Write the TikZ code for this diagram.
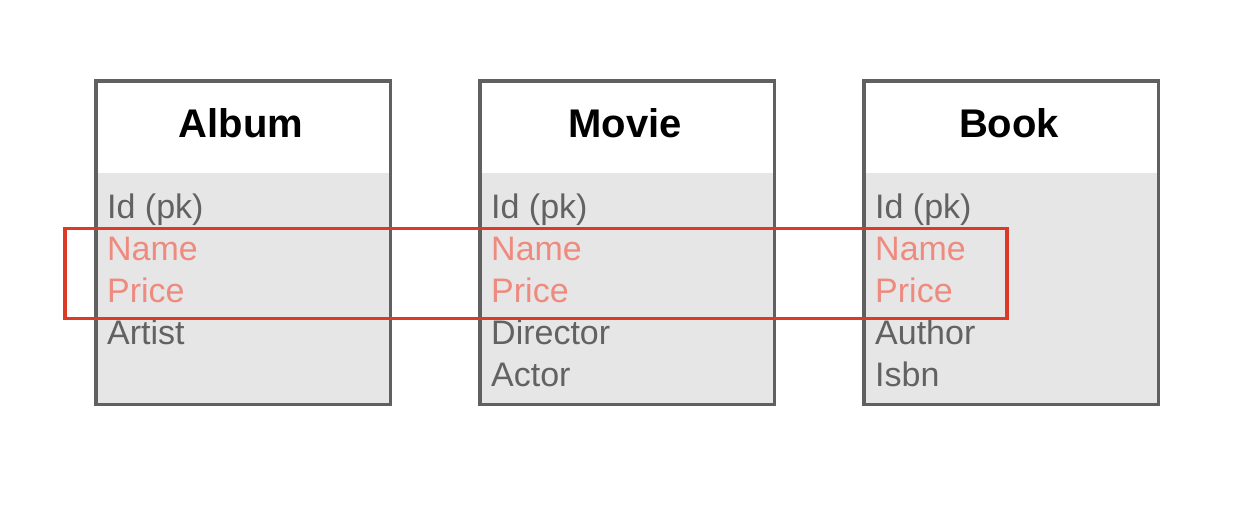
\documentclass[tikz,border=0pt]{standalone}
\usepackage{fontspec}
\setmainfont{Liberation Sans}
\usetikzlibrary{positioning}
\definecolor{TablaBorde}{HTML}{606060}
\definecolor{TablaFondo}{HTML}{E6E6E6}
\definecolor{CampoGris}{HTML}{626262}
\definecolor{CampoRojo}{HTML}{EF8A7E}
\definecolor{MarcaRojo}{HTML}{DC3A26}

\begin{document}
\begin{tikzpicture}[
  x=1pt,y=-1pt,
  tabla/.style={rectangle,fill=TablaFondo,minimum width=294.5pt,minimum height=323.5pt,inner sep=0pt},
  cabecera/.style={rectangle,fill=white,minimum width=294.5pt,minimum height=91.7pt,inner sep=0pt,anchor=north},
  borde/.style={draw=TablaBorde,line width=3.5pt},
  titulo/.style={font=\fontsize{40}{48}\selectfont\bfseries,anchor=base,inner sep=0pt},
  campo/.style={font=\fontsize{34}{42}\selectfont,text=CampoGris,anchor=base west,inner sep=0pt},
  comun/.style={campo,text=CampoRojo},
  marca/.style={rectangle,draw=MarcaRojo,line width=3.5pt,minimum width=942pt,minimum height=90.2pt,inner sep=0pt}
]
\useasboundingbox (0,0) rectangle (1250,518);
% tablas
\foreach \t/\x in {album/243.25,movie/627.25,book/1011.25}{
  \node[tabla] (\t) at (\x,242.75) {};
  \node[cabecera] (\t-cab) at (\t.north) {};
  \draw[borde] (\t.north west) rectangle (\t.south east);
}
\node[titulo] (album-titulo) at (241,138) {Album};
\node[titulo] (movie-titulo) at (625,138) {Movie};
\node[titulo] (book-titulo) at (1009,138) {Book};
% campos
\foreach \campo/\estilo [count=\i] in {Id (pk)/campo,Name/comun,Price/comun,Artist/campo}
  \node[\estilo] (album-\i) at (107,177+42*\i) {\campo};
\foreach \campo/\estilo [count=\i] in {Id (pk)/campo,Name/comun,Price/comun,Director/campo,Actor/campo}
  \node[\estilo] (movie-\i) at (491,177+42*\i) {\campo};
\foreach \campo/\estilo [count=\i] in {Id (pk)/campo,Name/comun,Price/comun,Author/campo,Isbn/campo}
  \node[\estilo] (book-\i) at (875,177+42*\i) {\campo};
% campos comunes
\node[marca] (comunes) at (536,273.6) {};
\end{tikzpicture}
\end{document}
